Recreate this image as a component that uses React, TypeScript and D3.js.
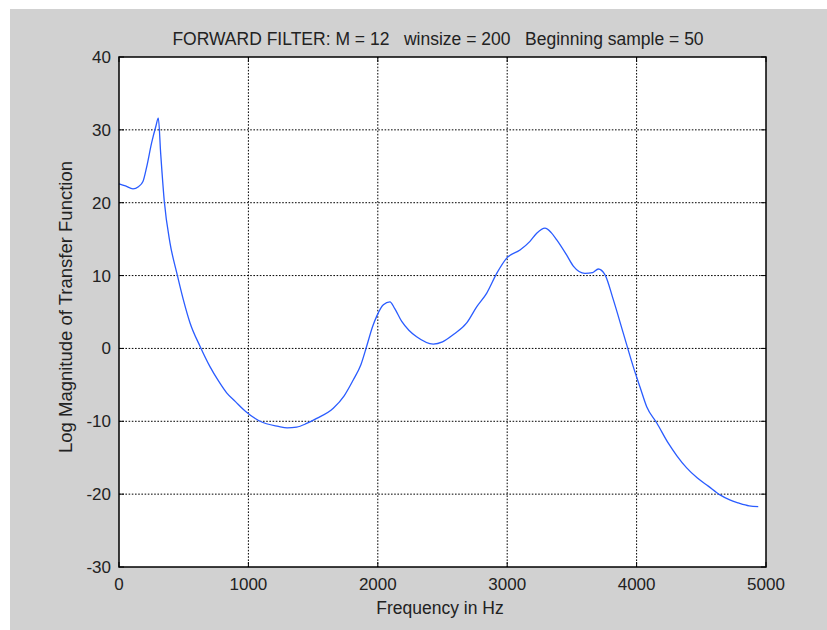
import React from 'react';
import * as d3 from 'd3';

// frequency (Hz) and log magnitude
const freqs = [
  0, 50, 108, 150, 185, 215, 252, 285, 304, 322, 350, 394, 446, 497, 549, 626, 703, 770, 832,
  900, 979, 1090, 1231, 1300, 1373, 1450, 1528, 1656, 1740, 1811, 1870, 1914, 1960, 1991, 2043,
  2094, 2130, 2185, 2240, 2300, 2429, 2500, 2584, 2687, 2764, 2842, 2919, 2996, 3099, 3176, 3228,
  3292, 3340, 3383, 3460, 3511, 3601, 3660, 3704, 3756, 3820, 3897, 3974, 4030, 4078, 4155, 4245,
  4310, 4387, 4470, 4554, 4645, 4720, 4786, 4870, 4940,
];
const mags = [
  22.6, 22.3, 21.9, 22.2, 22.9, 25, 28.2, 30.5, 31.6, 26.8, 20.2, 14.5, 10.4, 6.7, 3.5, 0.3, -2.5, -4.5, -6.1,
  -7.3, -8.65, -10.0, -10.7, -10.9, -10.8, -10.3, -9.6, -8.2, -6.5, -4.3, -2.2, 0.3, 3.0, 4.4, 6.0,
  6.4, 5.5, 3.7, 2.5, 1.6, 0.6, 0.9, 1.9, 3.5, 5.7, 7.6, 10.3, 12.4, 13.5, 14.7, 15.8,
  16.5, 15.9, 14.9, 12.8, 11.3, 10.3, 10.4, 10.9, 10.1, 6.7, 2.1, -2.5, -5.5, -8.0, -10.2, -13.0,
  -14.7, -16.4, -17.8, -18.9, -20.1, -20.8, -21.2, -21.6, -21.7,
];
const xTicks = [0, 1000, 2000, 3000, 4000, 5000];
const yTicks = [-30, -20, -10, 0, 10, 20, 30, 40];

const title = 'FORWARD FILTER: M = 12   winsize = 200   Beginning sample = 50';
const xLabel = 'Frequency in Hz';
const yLabel = 'Log Magnitude of Transfer Function';

const W = 827;
const H = 630;
const left = 119, right = 766, top = 57, bottom = 567;
const font = '"Liberation Sans", Arial, sans-serif';

export default function App() {
  const x = d3.scaleLinear().domain([0, 5000]).range([left, right]);
  const y = d3.scaleLinear().domain([-30, 40]).range([bottom, top]);

  const line = d3.line<number>()
    .x((_, i) => x(freqs[i]))
    .y(d => y(d))
    .curve(d3.curveMonotoneX);

  return (
    <svg width={W} height={H} style={{ position: 'absolute', left: 0, top: 0 }} fontFamily={font}>
      <rect width={W} height={H} fill="#fff" />
      <rect x={10} y={9} width={W - 10} height={H - 9} fill="#d1d1d1" />
      <rect x={left} y={top} width={right - left} height={bottom - top} fill="#fff" />

      {/* grid */}
      {xTicks.slice(1, -1).map(t => (
        <line key={'gx' + t} x1={x(t)} x2={x(t)} y1={top} y2={bottom}
          stroke="#000" strokeWidth={1} strokeDasharray="1.6,1.6" />
      ))}
      {yTicks.slice(1, -1).map(t => (
        <line key={'gy' + t} x1={left} x2={right} y1={y(t)} y2={y(t)}
          stroke="#000" strokeWidth={1} strokeDasharray="1.6,1.6" />
      ))}

      <path d={line(mags) || ''} fill="none" stroke="#2a5cff" strokeWidth={1.3} />

      {/* frame + ticks */}
      <rect x={left} y={top} width={right - left} height={bottom - top} fill="none" stroke="#000" strokeWidth={1.5} />
      {xTicks.map(t => (
        <g key={'tx' + t}>
          <line x1={x(t)} x2={x(t)} y1={bottom} y2={bottom - 5} stroke="#000" />
          <line x1={x(t)} x2={x(t)} y1={top} y2={top + 5} stroke="#000" />
          <text x={x(t)} y={bottom + 23} fontSize={17} textAnchor="middle" fill="#222">{t}</text>
        </g>
      ))}
      {yTicks.map(t => (
        <g key={'ty' + t}>
          <line x1={left} x2={left + 5} y1={y(t)} y2={y(t)} stroke="#000" />
          <line x1={right} x2={right - 5} y1={y(t)} y2={y(t)} stroke="#000" />
          <text x={left - 8} y={y(t) + 6} fontSize={17} textAnchor="end" fill="#222">{t}</text>
        </g>
      ))}

      <text x={438} y={45} fontSize={17.5} textAnchor="middle" fill="#222"
        style={{ whiteSpace: 'pre' }}>{title}</text>
      <text x={440} y={614} fontSize={17.5} textAnchor="middle" fill="#222">{xLabel}</text>
      <text transform={`translate(72,${(top + bottom) / 2 - 5}) rotate(-90)`} fontSize={18.5}
        textAnchor="middle" fill="#222">{yLabel}</text>
    </svg>
  );
}
